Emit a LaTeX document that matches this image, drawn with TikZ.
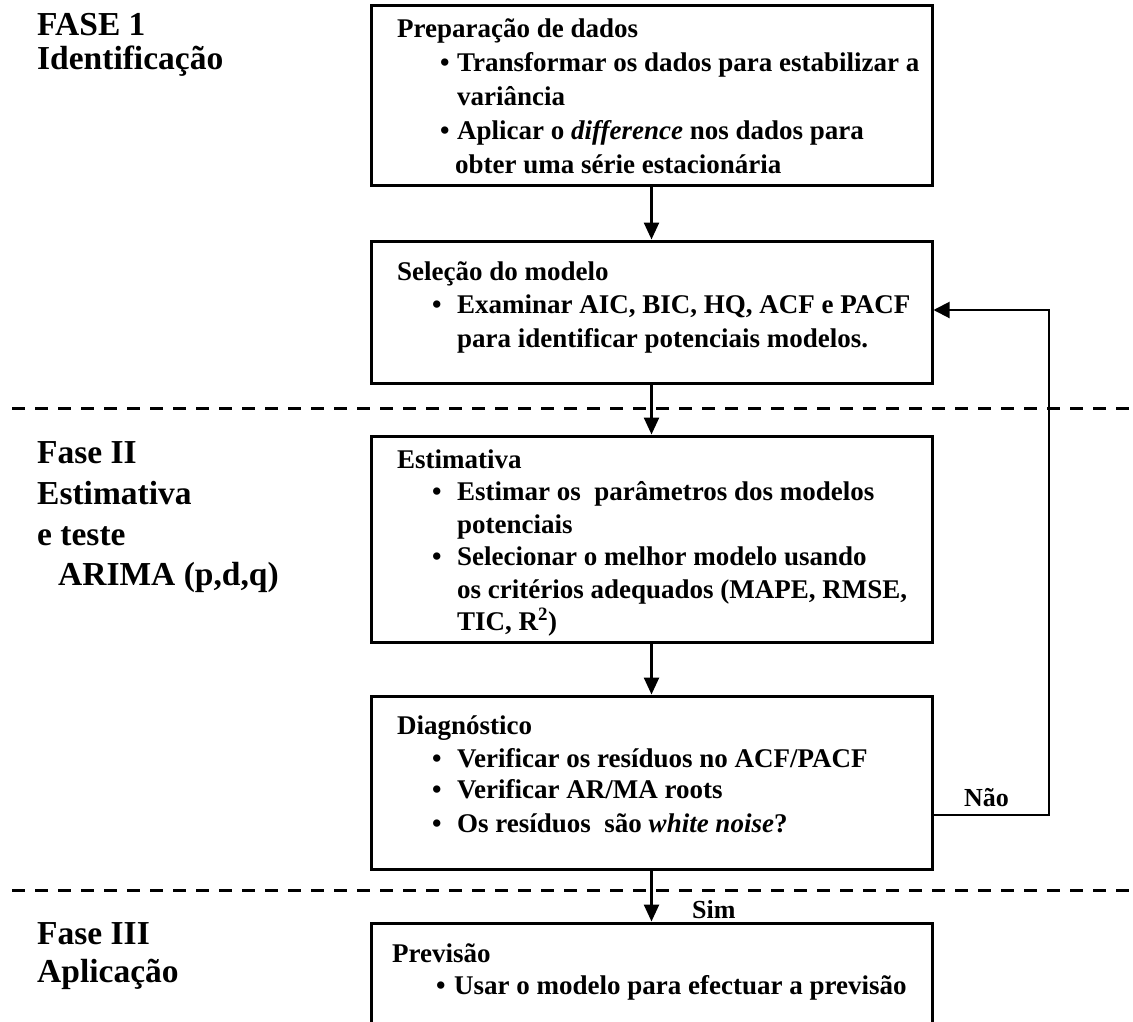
\documentclass[tikz,border=0pt]{standalone}
\usepackage{fontspec}
\setmainfont{Liberation Serif}
\usetikzlibrary{arrows.meta}
\begin{document}
\begin{tikzpicture}[x=1pt,y=-1pt,
  box/.style={draw, line width=3pt, minimum width=561pt, inner sep=0pt},
  txt/.style={anchor=base west, inner sep=0pt, font=\fontsize{27}{32}\selectfont\bfseries},
  lbl/.style={anchor=base west, inner sep=0pt, font=\fontsize{33.5}{40}\selectfont\bfseries},
  small/.style={anchor=base west, inner sep=0pt, font=\fontsize{26}{30}\selectfont\bfseries},
  arr/.style={line width=2.5pt, -{Triangle[length=17pt,width=15pt]}},
  fb/.style={line width=2pt, -{Triangle[length=16pt,width=16pt]}},
  sepline/.style={line width=3pt, dash pattern=on 13pt off 10pt},
]
\clip (0,0) rectangle (1133,1021);
\fill[white] (0,0) rectangle (1133,1021);

% boxes
\node[box, minimum height=180pt] (b1) at (651.5,95) {};
\node[box, minimum height=142pt] (b2) at (651.5,312) {};
\node[box, minimum height=206pt] (b3) at (651.5,539) {};
\node[box, minimum height=173pt] (b4) at (651.5,782.5) {};
\node[box, minimum height=140pt] (b5) at (651.5,993) {};

% separators
\draw[sepline] (12,408) -- (1133,408);
\draw[sepline] (12,890) -- (1133,890);

% left labels
\node[lbl] (l1a) at (37,35) {FASE 1};
\node[lbl] (l1b) at (37,69) {Identificação};
\node[lbl] (l2a) at (37,463) {Fase II};
\node[lbl] (l2b) at (37,504) {Estimativa};
\node[lbl] (l2c) at (37,545) {e teste};
\node[lbl] (l2d) at (58,585) {ARIMA (p,d,q)};
\node[lbl] (l3a) at (37,944) {Fase III};
\node[lbl] (l3b) at (37,982) {Aplicação};

% box 1
\node[txt] (t1h) at (397,37) {Preparação de dados};
\node[txt] (t1b1) at (440,71) {•};
\node[txt] (t1l1) at (457,71) {Transformar os dados para estabilizar a};
\node[txt] (t1l2) at (457,105) {variância};
\node[txt] (t1b2) at (440,139) {•};
\node[txt] (t1l3) at (457,139) {Aplicar o \textit{difference} nos dados para};
\node[txt] (t1l4) at (455,173) {obter uma série estacionária};

% box 2
\node[txt] (t2h) at (397,280) {Seleção do modelo};
\node[txt] (t2b1) at (432,313) {•};
\node[txt] (t2l1) at (457,313) {Examinar AIC, BIC, HQ, ACF e PACF};
\node[txt] (t2l2) at (457,347) {para identificar potenciais modelos.};

% box 3
\node[txt] (t3h) at (397,468) {Estimativa};
\node[txt] (t3b1) at (432,500) {•};
\node[txt] (t3l1) at (457,500) {Estimar os\ \ parâmetros dos modelos};
\node[txt] (t3l2) at (457,533) {potenciais};
\node[txt] (t3b2) at (432,565) {•};
\node[txt] (t3l3) at (457,565) {Selecionar o melhor modelo usando};
\node[txt] (t3l4) at (457,598) {os critérios adequados (MAPE, RMSE,};
\node[txt] (t3l5) at (457,630) {TIC, R\textsuperscript{2})};

% box 4
\node[txt] (t4h) at (397,734) {Diagnóstico};
\node[txt] (t4b1) at (432,767) {•};
\node[txt] (t4l1) at (457,767) {Verificar os resíduos no ACF/PACF};
\node[txt] (t4b2) at (432,798) {•};
\node[txt] (t4l2) at (457,798) {Verificar AR/MA roots};
\node[txt] (t4b3) at (432,832) {•};
\node[txt] (t4l3) at (457,832) {Os resíduos\ \ são \textit{white noise}?};

% box 5
\node[txt] (t5h) at (392,962) {Previsão};
\node[txt] (t5b1) at (436,994) {•};
\node[txt] (t5l1) at (454,994) {Usar o modelo para efectuar a previsão};

% connectors
\draw[arr] (b1.south) -- (b2.north);
\draw[arr] (b2.south) -- (b3.north);
\draw[arr] (b3.south) -- (b4.north);
\draw[arr] (b4.south) -- (b5.north);

\coordinate (fr1) at (1049,815);
\coordinate (fr2) at (1049,310);
\draw[fb] (b4.east |- fr1) -- (fr1) -- (fr2) -- (b2.east |- fr2);

\node[small] (nao) at (964,806) {Não};
\node[small] (sim) at (692,918) {Sim};
\end{tikzpicture}
\end{document}
